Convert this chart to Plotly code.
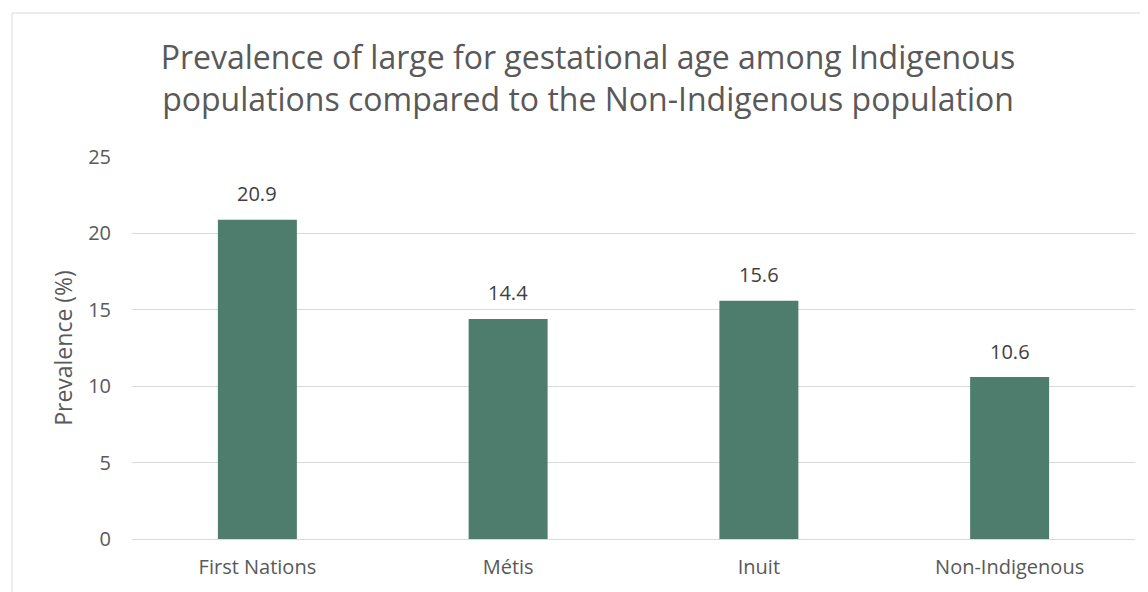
import plotly.graph_objects as go

categories = ["First Nations", "Métis", "Inuit", "Non-Indigenous"]
prevalence = [20.9, 14.4, 15.6, 10.6]
y_ticks = [0, 5, 10, 15, 20, 25]

bar_color = "#4e7d6e"
grid_color = "#d9d9d9"
font_family = "Open Sans, Liberation Sans, sans-serif"

fig = go.Figure(
    go.Bar(
        x=categories,
        y=prevalence,
        width=0.315,
        marker=dict(color=bar_color, line=dict(width=0)),
        hoverinfo="x+y",
    )
)

# value labels sitting above each bar
for cat, val in zip(categories, prevalence):
    fig.add_annotation(
        x=cat,
        y=val,
        text=f"{val:.1f}",
        showarrow=False,
        yanchor="middle",
        yshift=26,
        font=dict(size=20, color="#404040"),
    )

# page body has an 8px margin, so the figure is 8px smaller than the window
fig.update_layout(
    width=1140,
    height=584,
    margin=dict(l=124, r=13, t=149, b=45),
    paper_bgcolor="white",
    plot_bgcolor="white",
    font=dict(family=font_family, color="#595959"),
    showlegend=False,
    title=dict(
        text="Prevalence of large for gestational age among Indigenous<br>"
        "populations compared to the Non-Indigenous population",
        font=dict(size=32, color="#595959"),
        xref="container",
        yref="container",
        x=580 / 1140,
        xanchor="center",
        y=1 - 61 / 584,
        yanchor="top",
    ),
    xaxis=dict(
        showgrid=False,
        showline=False,
        ticks="",
        ticklabelstandoff=14,
        tickfont=dict(size=20, color="#595959"),
    ),
    yaxis=dict(
        range=[0, 25],
        tickvals=y_ticks,
        showgrid=True,
        gridcolor=grid_color,
        gridwidth=1,
        zeroline=True,
        zerolinecolor=grid_color,
        zerolinewidth=1,
        showline=False,
        ticks="",
        ticklabelstandoff=20,
        tickfont=dict(size=20, color="#595959"),
        title=dict(text="Prevalence (%)", font=dict(size=23, color="#595959"), standoff=9),
    ),
)

# chart border (Excel-style chart area outline)
fig.add_shape(
    type="rect",
    xref="paper",
    yref="paper",
    x0=-0.1196,
    x1=1.03,
    y0=-0.2,
    y1=1.377,
    line=dict(color=grid_color, width=1),
    fillcolor="rgba(0,0,0,0)",
    layer="below",
)

fig.write_html("out.html")
